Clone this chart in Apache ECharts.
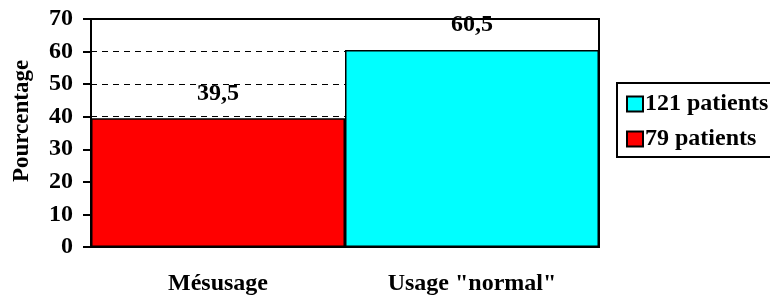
<!DOCTYPE html>
<html>
<head>
<meta charset="utf-8">
<script src="https://cdn.jsdelivr.net/npm/echarts@6/dist/echarts.min.js"></script>
<style>
  html, body { margin: 0; padding: 0; background: #fff; }
  #chart { width: 770px; height: 300px; }
</style>
</head>
<body>
<div id="chart"></div>
<script>
// data
const categories = ['Mésusage', 'Usage "normal"']
const seriesNames = ['121 patients', '79 patients']
const normalValues = ['-', 60.5]
const misuseValues = [39.5, '-']
const yTicks = [0, 70, 10] // min, max, interval

const font = 'Liberation Serif'
const bold = { fontFamily: font, fontWeight: 'bold', fontSize: 24, color: '#000' }

const barLabel = {
  show: true,
  position: 'top',
  distance: 13,
  ...bold,
  formatter: (p) => String(p.value).replace('.', ','),
}

let myChart = echarts.init(document.getElementById('chart'))
myChart.setOption({
  animation: false,
  grid: {
    left: 91,
    right: 171,
    top: 19,
    bottom: 53,
    outerBoundsMode: 'none',
    containLabel: false,
    show: true,
    borderColor: '#000',
    borderWidth: 2,
    backgroundColor: 'transparent',
  },
  legend: {
    orient: 'vertical',
    left: 617,
    top: 83,
    padding: [9, 40, 6, 9],
    itemGap: 11,
    itemWidth: 16,
    itemHeight: 15,
    icon: 'rect',
    borderColor: '#000',
    borderWidth: 2,
    textStyle: { ...bold, padding: [0, 0, 0, -3] },
    data: seriesNames,
  },
  xAxis: {
    type: 'category',
    data: categories,
    axisLine: { lineStyle: { color: '#000', width: 2 } },
    axisTick: { length: 7, lineStyle: { color: '#000', width: 2 } },
    axisLabel: { ...bold, margin: 25 },
  },
  yAxis: {
    type: 'value',
    min: yTicks[0],
    max: yTicks[1],
    interval: yTicks[2],
    name: 'Pourcentage',
    nameLocation: 'middle',
    nameGap: 57,
    nameRotate: 90,
    nameTextStyle: { ...bold, fontSize: 23, padding: [0, 0, 0, 24] },
    axisLine: { show: true, lineStyle: { color: '#000', width: 2 } },
    axisTick: { show: true, length: 8, lineStyle: { color: '#000', width: 2 } },
    axisLabel: { ...bold, margin: 18 },
    splitLine: {
      lineStyle: { type: [6, 5], color: '#000', width: 1 },
    },
  },
  series: [
    {
      name: seriesNames[0],
      type: 'bar',
      data: normalValues,
      barWidth: '100%',
      barGap: '-100%',
      itemStyle: { color: '#00ffff', borderColor: '#000', borderWidth: 1.5 },
      label: barLabel,
    },
    {
      name: seriesNames[1],
      type: 'bar',
      data: misuseValues,
      barWidth: '100%',
      barGap: '-100%',
      itemStyle: { color: '#ff0000', borderColor: '#000', borderWidth: 1.5 },
      label: barLabel,
    },
  ],
})
</script>
</body>
</html>
